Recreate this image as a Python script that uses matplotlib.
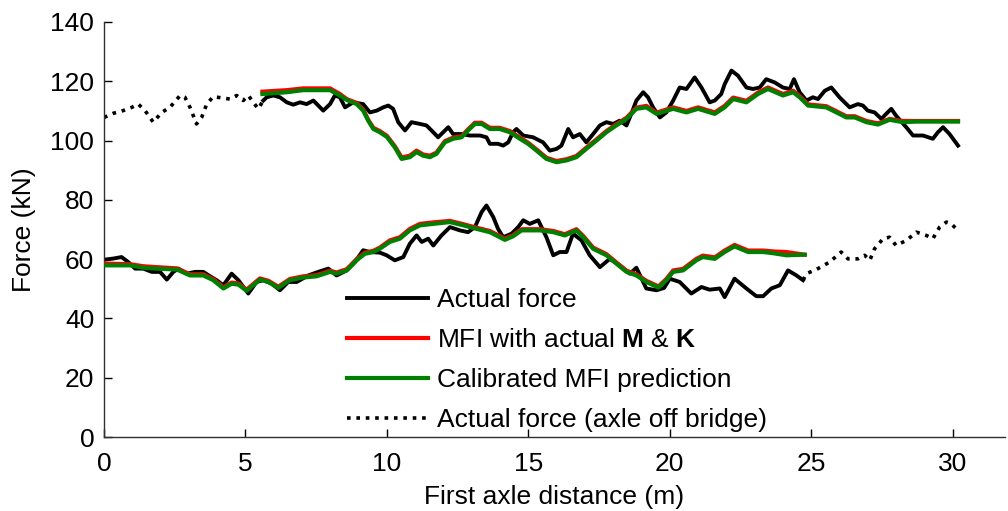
import matplotlib
matplotlib.use('Agg')
import matplotlib.pyplot as plt

plt.rcParams['font.family'] = ['Liberation Sans', 'DejaVu Sans']
plt.rcParams['mathtext.fontset'] = 'custom'
plt.rcParams['mathtext.rm'] = 'Liberation Sans'
plt.rcParams['mathtext.bf'] = 'Liberation Sans:bold'

# ---------------- data ----------------
# upper axle, actual force while axle off bridge (dotted)
up_off_x = [0, 0.33, 0.62, 0.98, 1.21, 1.45, 1.74, 2.04, 2.33, 2.69, 2.86, 3.04, 3.27, 3.45,
            3.63, 3.86, 4.16, 4.45, 4.69, 4.92, 5.10, 5.28, 5.45, 5.63]
up_off_y = [107.8, 109.2, 109.9, 111.2, 112.3, 110.1, 106.2, 109.5, 111.2, 115.2, 114.6, 111.2,
            105.6, 107.8, 112.3, 114.8, 114.4, 114.0, 115.2, 113.5, 115.2, 112.9, 110.7, 113.5]

# upper axle, actual force (solid)
up_act_x = [5.63, 5.75, 5.98, 6.22, 6.46, 6.69, 6.93, 7.16, 7.40, 7.75, 7.99, 8.16, 8.34, 8.52,
            8.81, 9.16, 9.40, 9.64, 9.87, 10.05, 10.22, 10.40, 10.64, 10.87, 11.17, 11.40, 11.64,
            11.81, 11.99, 12.17, 12.34, 12.64, 12.93, 13.29, 13.52, 13.64, 13.93, 14.11, 14.29,
            14.46, 14.58, 14.82, 15.17, 15.52, 15.76, 16.00, 16.17, 16.41, 16.58, 16.82, 17.05,
            17.29, 17.53, 17.76, 18.00, 18.23, 18.47, 18.64, 18.82, 19.06, 19.23, 19.41, 19.65,
            19.88, 20.12, 20.35, 20.59, 20.88, 21.12, 21.41, 21.59, 21.82, 21.94, 22.18, 22.41,
            22.71, 22.94, 23.18, 23.41, 23.71, 24.00, 24.24, 24.39, 24.59, 24.83, 25.06, 25.24,
            25.48, 25.71, 26.00, 26.36, 26.65, 26.83, 27.00, 27.24, 27.48, 27.65, 27.83, 28.00,
            28.36, 28.60, 28.95, 29.30, 29.48, 29.66, 29.89, 30.19]
up_act_y = [113.5, 114.6, 115.2, 114.6, 112.9, 112.1, 112.9, 112.3, 113.5, 110.1, 112.3, 115.2,
            114.6, 111.2, 112.9, 112.3, 109.5, 110.1, 111.2, 111.8, 110.7, 106.2, 103.4, 106.2,
            105.6, 105.1, 102.8, 101.1, 102.8, 104.5, 102.2, 102.2, 101.7, 101.7, 101.1, 98.9,
            98.9, 98.3, 99.4, 102.8, 103.9, 101.7, 101.1, 99.4, 96.6, 97.2, 98.3, 103.9, 101.1,
            102.2, 99.4, 102.2, 105.1, 106.2, 105.6, 106.7, 105.1, 109.0, 113.5, 116.3, 114.6,
            111.2, 107.8, 109.5, 113.5, 117.9, 117.4, 121.3, 117.9, 112.9, 113.5, 115.7, 119.0,
            123.6, 121.9, 117.9, 117.4, 117.9, 120.7, 119.6, 117.9, 117.4, 120.7, 116.3, 113.5,
            114.6, 114.0, 116.8, 117.9, 114.6, 111.2, 112.3, 111.8, 110.1, 109.5, 107.3, 109.0,
            110.7, 108.4, 104.5, 101.7, 101.7, 100.6, 102.8, 104.5, 102.2, 98.3]

# upper axle, MFI predictions
up_mfi_x = [5.60, 6.46, 7.04, 7.99, 8.34, 8.58, 8.93, 9.16, 9.34, 9.52, 9.75, 10.00, 10.28,
            10.52, 10.81, 11.05, 11.28, 11.52, 11.75, 12.05, 12.34, 12.64, 12.87, 13.11, 13.35,
            13.64, 13.99, 14.35, 14.70, 14.99, 15.29, 15.64, 16.00, 16.35, 16.70, 17.05, 17.41,
            17.76, 18.11, 18.47, 18.82, 19.17, 19.53, 20.12, 20.59, 21.00, 21.59, 21.94, 22.24,
            22.71, 23.12, 23.47, 24.00, 24.36, 24.59, 24.89, 25.53, 25.89, 26.24, 26.54, 26.95,
            27.36, 27.77, 28.24, 28.72, 30.19]
up_cal_y = [115.7, 116.3, 117.0, 117.0, 115.2, 113.7, 112.3, 110.1, 106.7, 103.9, 102.8, 101.2,
            97.7, 93.8, 94.4, 96.1, 94.9, 94.4, 95.5, 99.4, 100.6, 101.1, 103.4, 105.6, 105.6,
            103.9, 103.9, 102.8, 100.6, 98.9, 96.6, 93.8, 92.7, 93.3, 94.4, 97.2, 100.0, 102.8,
            105.1, 107.3, 110.7, 111.2, 109.0, 110.7, 109.5, 110.7, 109.0, 111.2, 114.0, 112.9,
            115.7, 117.4, 115.2, 116.3, 114.6, 111.8, 111.2, 109.5, 107.8, 107.8, 106.2, 105.4,
            107.0, 106.2, 106.4, 106.4]
up_act_mk_y = [116.5, 117.0, 117.6, 117.6, 115.7, 114.0, 112.7, 110.5, 107.0, 104.3, 103.2, 101.6,
               98.1, 94.3, 94.9, 96.6, 95.3, 94.9, 95.9, 99.8, 101.0, 101.5, 103.8, 106.0, 106.0,
               104.3, 104.3, 103.2, 101.0, 99.3, 97.0, 94.2, 93.1, 93.7, 94.8, 97.6, 100.4, 103.2,
               105.5, 107.7, 111.1, 111.7, 109.4, 111.2, 110.0, 111.2, 109.5, 111.7, 114.5, 113.4,
               116.2, 117.9, 115.7, 116.8, 115.0, 112.2, 111.6, 109.9, 108.2, 108.2, 106.6, 105.8,
               107.3, 106.6, 106.6, 106.6]

# lower axle, actual force (solid)
lo_act_x = [0, 0.33, 0.62, 0.86, 1.10, 1.39, 1.69, 1.98, 2.22, 2.45, 2.63, 2.92, 3.22, 3.51,
            3.75, 3.98, 4.22, 4.51, 4.75, 5.10, 5.39, 5.63, 5.93, 6.22, 6.51, 6.81, 7.22, 7.57,
            7.93, 8.22, 8.58, 8.87, 9.16, 9.40, 9.75, 9.99, 10.28, 10.58, 10.81, 11.05, 11.23,
            11.46, 11.64, 11.93, 12.23, 12.58, 12.87, 13.11, 13.35, 13.52, 13.76, 13.93, 14.11,
            14.41, 14.64, 14.82, 15.05, 15.35, 15.64, 15.88, 16.11, 16.35, 16.58, 16.88, 17.17,
            17.53, 17.88, 18.23, 18.59, 18.82, 19.17, 19.53, 19.80, 20.00, 20.35, 20.76, 21.12,
            21.41, 21.77, 21.94, 22.29, 22.71, 23.06, 23.30, 23.59, 23.89, 24.18, 24.48, 24.71]
lo_act_y = [59.8, 60.2, 60.7, 59.0, 56.8, 56.8, 55.7, 55.7, 53.1, 55.7, 56.8, 55.1, 55.7, 55.7,
            54.2, 52.9, 51.2, 55.1, 52.9, 48.4, 52.3, 52.9, 51.7, 49.5, 52.3, 52.3, 54.5, 55.7,
            56.8, 54.5, 56.2, 59.0, 63.0, 62.4, 62.2, 61.3, 59.6, 60.7, 65.2, 68.0, 65.8, 66.9,
            64.6, 68.0, 70.8, 69.7, 69.1, 70.8, 75.9, 78.1, 74.2, 70.2, 67.4, 68.6, 70.8, 73.1,
            71.9, 73.1, 67.4, 61.3, 62.4, 62.4, 68.6, 66.3, 61.3, 57.3, 60.1, 57.9, 55.1, 57.1,
            50.1, 49.5, 50.3, 53.4, 52.3, 48.4, 50.6, 49.7, 50.1, 47.2, 53.4, 50.1, 47.5, 47.5,
            50.1, 51.2, 56.2, 54.5, 52.9]

# lower axle, actual force after the axle leaves the bridge (dotted)
lo_off_x = [24.71, 24.83, 25.18, 25.65, 26.06, 26.30, 26.65, 26.89, 27.07, 27.24, 27.54, 27.77,
            28.00, 28.36, 28.72, 29.07, 29.30, 29.54, 29.78, 29.95, 30.19]
lo_off_y = [52.9, 55.1, 56.5, 59.0, 62.4, 60.1, 60.1, 61.3, 59.6, 63.5, 66.9, 67.4, 64.6, 66.3,
            69.1, 68.0, 66.9, 70.8, 72.5, 71.9, 69.7]

# lower axle, MFI predictions
lo_mfi_x = [0, 0.92, 1.39, 1.86, 2.57, 3.04, 3.51, 3.86, 4.22, 4.51, 4.75, 5.04, 5.51, 5.81,
            6.16, 6.57, 7.04, 7.51, 7.99, 8.22, 8.58, 8.93, 9.22, 9.52, 9.75, 10.10, 10.46,
            10.81, 11.17, 11.64, 12.23, 12.70, 13.17, 13.64, 14.17, 14.46, 14.76, 15.41, 15.88,
            16.29, 16.70, 16.94, 17.29, 17.76, 18.11, 18.47, 18.82, 19.17, 19.60, 19.88, 20.12,
            20.47, 20.94, 21.17, 21.59, 21.94, 22.29, 22.77, 23.30, 23.65, 24.12, 24.77]
lo_cal_y = [57.9, 57.9, 57.1, 56.8, 56.5, 54.5, 54.5, 52.9, 50.1, 51.7, 51.4, 49.3, 53.1, 52.3,
            50.3, 52.9, 53.8, 54.2, 55.7, 55.1, 56.2, 59.6, 61.8, 62.4, 63.5, 65.8, 66.9, 69.7,
            71.4, 71.9, 72.5, 71.4, 70.2, 69.1, 66.5, 67.7, 69.7, 69.7, 69.1, 68.0, 69.7, 67.4,
            63.5, 61.3, 58.5, 55.7, 54.5, 52.3, 50.4, 52.9, 55.7, 56.2, 59.6, 60.7, 60.1, 62.4,
            64.3, 62.4, 62.4, 62.0, 61.3, 61.5]
lo_act_mk_y = [58.5, 58.3, 57.6, 57.3, 56.9, 54.9, 54.9, 53.3, 50.5, 52.1, 51.8, 49.7, 53.5, 52.7,
               50.7, 53.3, 54.2, 54.6, 56.1, 55.5, 56.6, 60.0, 62.2, 62.8, 63.9, 66.3, 67.4, 70.2,
               71.9, 72.4, 72.9, 71.8, 70.6, 69.5, 66.9, 68.1, 70.1, 70.1, 69.5, 68.4, 70.1, 67.8,
               63.9, 61.7, 58.9, 56.1, 54.9, 52.7, 50.8, 53.3, 56.2, 56.7, 60.1, 61.2, 60.6, 62.9,
               64.8, 62.9, 62.9, 62.6, 62.4, 61.5]

legend_labels = ['Actual force', r'MFI with actual $\mathbf{M}$ & $\mathbf{K}$',
                 'Calibrated MFI prediction', 'Actual force (axle off bridge)']
x_ticks = [0, 5, 10, 15, 20, 25, 30]
y_ticks = [0, 20, 40, 60, 80, 100, 120, 140]

# ---------------- figure ----------------
FS = 19
fig = plt.figure(figsize=(10.08, 5.11), dpi=100)
ax = fig.add_axes([0.1032, 0.1448, 0.8938, 0.8122])

RED = '#ff0000'
GREEN = '#008000'
dotted = (0, (1.0, 1.6))

h_act, = ax.plot(up_act_x, up_act_y, color='black', lw=2.8, zorder=2)
ax.plot(lo_act_x, lo_act_y, color='black', lw=2.8, zorder=2)
h_off, = ax.plot(up_off_x, up_off_y, color='black', lw=2.6, ls=dotted, zorder=2)
ax.plot(lo_off_x, lo_off_y, color='black', lw=2.6, ls=dotted, zorder=2)
h_red, = ax.plot(up_mfi_x, up_act_mk_y, color=RED, lw=3.0, zorder=3)
ax.plot(lo_mfi_x, lo_act_mk_y, color=RED, lw=3.0, zorder=3)
h_grn, = ax.plot(up_mfi_x, up_cal_y, color=GREEN, lw=3.0, zorder=4)
ax.plot(lo_mfi_x, lo_cal_y, color=GREEN, lw=3.0, zorder=4)

ax.set_xlim(0, 31.85)
ax.set_ylim(0, 140)
ax.set_xticks(x_ticks)
ax.set_yticks(y_ticks)

for s in ['top', 'right']:
    ax.spines[s].set_visible(False)
for s in ['left', 'bottom']:
    ax.spines[s].set_color('#303030')
    ax.spines[s].set_linewidth(1.0)

ax.tick_params(direction='in', length=6, width=1.0, labelsize=FS, colors='black')
ax.tick_params(axis='x', pad=11)
ax.tick_params(axis='y', pad=7)

ax.set_xlabel('First axle distance (m)', fontsize=FS, labelpad=6)
ax.set_ylabel('Force (kN)', fontsize=FS, labelpad=10)

leg = ax.legend([h_act, h_red, h_grn, h_off], legend_labels, loc='upper left',
                bbox_to_anchor=(0.2697, 0.358), frameon=False, fontsize=FS,
                handlelength=3.07, handletextpad=0.34, labelspacing=0.60,
                borderpad=0, borderaxespad=0)

fig.savefig('out.png', dpi=100)
